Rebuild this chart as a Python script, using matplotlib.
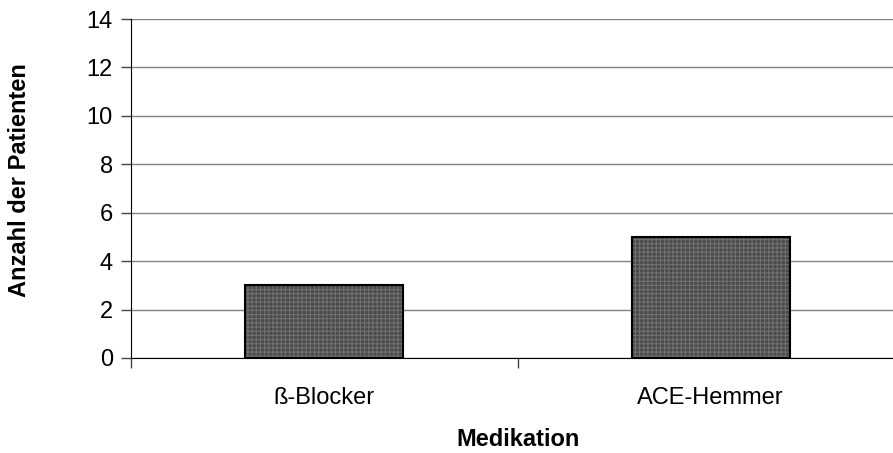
import matplotlib.pyplot as plt

plt.rcParams["font.family"] = ["Liberation Sans", "DejaVu Sans"]
plt.rcParams["hatch.linewidth"] = 0.8

# Daten
kategorien = ["ß-Blocker", "ACE-Hemmer"]
patienten = [3, 5]
y_ticks = [0, 2, 4, 6, 8, 10, 12, 14]

fig = plt.figure(figsize=(8.93, 4.53), dpi=100)
ax = fig.add_axes([131 / 893, 1 - 358 / 453, 773 / 893, 339 / 453])

x = range(len(kategorien))
# Füllung mit feinem Raster, dann Umriss
ax.bar(x, patienten, width=0.41, color="#4a4a4a", edgecolor="#707070",
       linewidth=0, zorder=3, hatch="++++")
ax.bar(x, patienten, width=0.41, fill=False, edgecolor="black",
       linewidth=1.5, zorder=4)

ax.set_xlim(-0.5, 1.5)
ax.set_ylim(0, 14)
ax.set_yticks(y_ticks)
ax.set_xticks([-0.5, 0.5, 1.5], minor=False)
ax.set_xticklabels(["", "", ""])
ax.set_xticks(list(x), minor=True)
ax.set_xticklabels(kategorien, minor=True)
ax.tick_params(axis="x", which="minor", length=0, labelsize=17, pad=21)
ax.tick_params(axis="x", which="major", length=7, width=1, color="#444444")
ax.tick_params(axis="y", length=7, width=1, labelsize=17, pad=6,
               color="#444444")

ax.grid(axis="y", color="#808080", linewidth=1, zorder=0)
for s in ["top", "right"]:
    ax.spines[s].set_visible(False)
ax.spines["left"].set_color("black")
ax.spines["bottom"].set_color("black")

fig.text(518 / 893, 1 - 439 / 453, "Medikation", fontsize=17,
         fontweight="bold", ha="center", va="center")
fig.text(20 / 893, 1 - 180 / 453, "Anzahl der Patienten", fontsize=17,
         fontweight="bold", ha="center", va="center", rotation=90)

fig.savefig("out.png", dpi=100)
